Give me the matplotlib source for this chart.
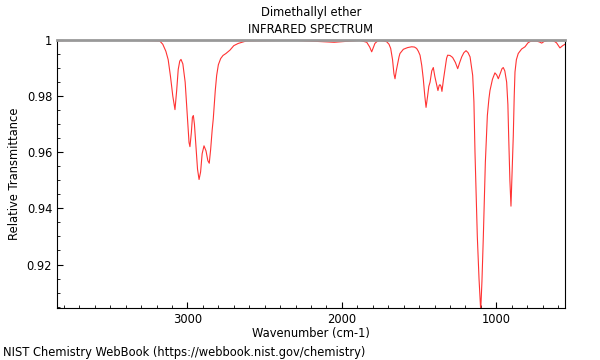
import numpy as np
import matplotlib.pyplot as plt
from matplotlib.ticker import MultipleLocator, FuncFormatter

# Titik spektrum (bilangan gelombang, transmitansi)
wavenumber = [3845, 3600, 3400, 3250, 3180, 3160, 3140, 3125, 3110, 3095,
              3081, 3070, 3060, 3050, 3042, 3030, 3015, 3000, 2990, 2984,
              2975, 2968, 2962, 2955, 2945, 2935, 2925, 2915, 2905, 2893,
              2880, 2868, 2859, 2850, 2840, 2833, 2820, 2811, 2800, 2785,
              2770, 2751, 2725, 2700, 2671, 2617, 2500, 2300, 2150, 2050,
              1950, 1883, 1839, 1820, 1807, 1795, 1786, 1770, 1753, 1730,
              1710, 1695, 1684, 1672, 1663, 1656, 1648, 1641, 1630, 1624,
              1602, 1575, 1548, 1530, 1516, 1505, 1494, 1483, 1473, 1463,
              1455, 1445, 1437, 1429, 1418, 1408, 1398, 1390, 1378, 1370,
              1365, 1358, 1352, 1342, 1332, 1322, 1315, 1300, 1283, 1265,
              1250, 1237, 1224, 1210, 1196, 1183, 1170, 1160, 1153, 1145,
              1138, 1123, 1112, 1101, 1093, 1084, 1071, 1058, 1048, 1041,
              1025, 1009, 997, 987, 975, 963, 955, 945, 933, 925,
              920, 912, 905, 898, 890, 884, 879, 870, 858, 836,
              814, 795, 777, 738, 720, 706, 690, 663, 631, 610,
              588, 570, 555]
transmittance = [0.9998, 0.9999, 0.9999, 0.9998, 0.9997, 0.9985, 0.9960, 0.9930, 0.9870, 0.9800,
                 0.9752, 0.9820, 0.9895, 0.9925, 0.9931, 0.9915, 0.9850, 0.9720, 0.9635, 0.9620,
                 0.9670, 0.9725, 0.9731, 0.9700, 0.9620, 0.9540, 0.9503, 0.9530, 0.9595, 0.9623,
                 0.9605, 0.9570, 0.9561, 0.9610, 0.9680, 0.9719, 0.9820, 0.9874, 0.9912, 0.9934,
                 0.9945, 0.9952, 0.9964, 0.9980, 0.9988, 0.9997, 0.9998, 0.9999, 0.9995, 0.9992,
                 0.9996, 0.9999, 0.9992, 0.9975, 0.9958, 0.9975, 0.9988, 0.9996, 0.9998, 0.9997,
                 0.9994, 0.9985, 0.9970, 0.9930, 0.9880, 0.9862, 0.9890, 0.9910, 0.9940, 0.9952,
                 0.9967, 0.9973, 0.9976, 0.9975, 0.9970, 0.9960, 0.9946, 0.9910, 0.9862, 0.9800,
                 0.9760, 0.9800, 0.9835, 0.9850, 0.9890, 0.9902, 0.9870, 0.9850, 0.9820, 0.9838,
                 0.9841, 0.9835, 0.9817, 0.9860, 0.9898, 0.9935, 0.9946, 0.9945, 0.9938, 0.9920,
                 0.9898, 0.9920, 0.9940, 0.9955, 0.9962, 0.9955, 0.9940, 0.9900, 0.9874, 0.9780,
                 0.9599, 0.9300, 0.9150, 0.9036, 0.9140, 0.9300, 0.9563, 0.9731, 0.9790, 0.9820,
                 0.9860, 0.9883, 0.9875, 0.9862, 0.9880, 0.9898, 0.9902, 0.9890, 0.9850, 0.9770,
                 0.9659, 0.9500, 0.9408, 0.9520, 0.9659, 0.9800, 0.9886, 0.9930, 0.9952, 0.9968,
                 0.9976, 0.9990, 0.9996, 0.9996, 0.9993, 0.9989, 0.9995, 0.9999, 0.9998, 0.9990,
                 0.9972, 0.9980, 0.9985]

fig = plt.figure(figsize=(6, 3.6), dpi=100)
ax = fig.add_axes([0.095, 0.1444, 0.8467, 0.7444])

ax.plot(wavenumber, transmittance, color="#ff3333", linewidth=0.8)

ax.set_xlim(3845, 555)
ax.set_ylim(0.9045, 1.0)

ax.xaxis.set_major_locator(MultipleLocator(1000))
ax.xaxis.set_minor_locator(MultipleLocator(100))
ax.yaxis.set_major_locator(MultipleLocator(0.02))
ax.yaxis.set_minor_locator(MultipleLocator(0.005))
ax.yaxis.set_major_formatter(FuncFormatter(lambda v, p: "%g" % round(v, 4)))

ax.tick_params(which="both", direction="in", top=False, right=False, labelsize=8.3)
ax.tick_params(which="major", length=4)
ax.tick_params(which="minor", length=2)

ax.spines["top"].set_color("#999999")
ax.spines["top"].set_linewidth(2)

fig.text(0.518, 0.965, "Dimethallyl ether", ha="center", va="center", fontsize=8.3)
fig.text(0.518, 0.917, "INFRARED SPECTRUM", ha="center", va="center", fontsize=8.3)
ax.set_xlabel("Wavenumber (cm-1)", fontsize=8.3, labelpad=1)
ax.set_ylabel("Relative Transmittance", fontsize=8.3)
fig.text(0.005, 0.022, "NIST Chemistry WebBook (https://webbook.nist.gov/chemistry)",
         ha="left", va="center", fontsize=8.3)

fig.savefig("out.png", dpi=100)
